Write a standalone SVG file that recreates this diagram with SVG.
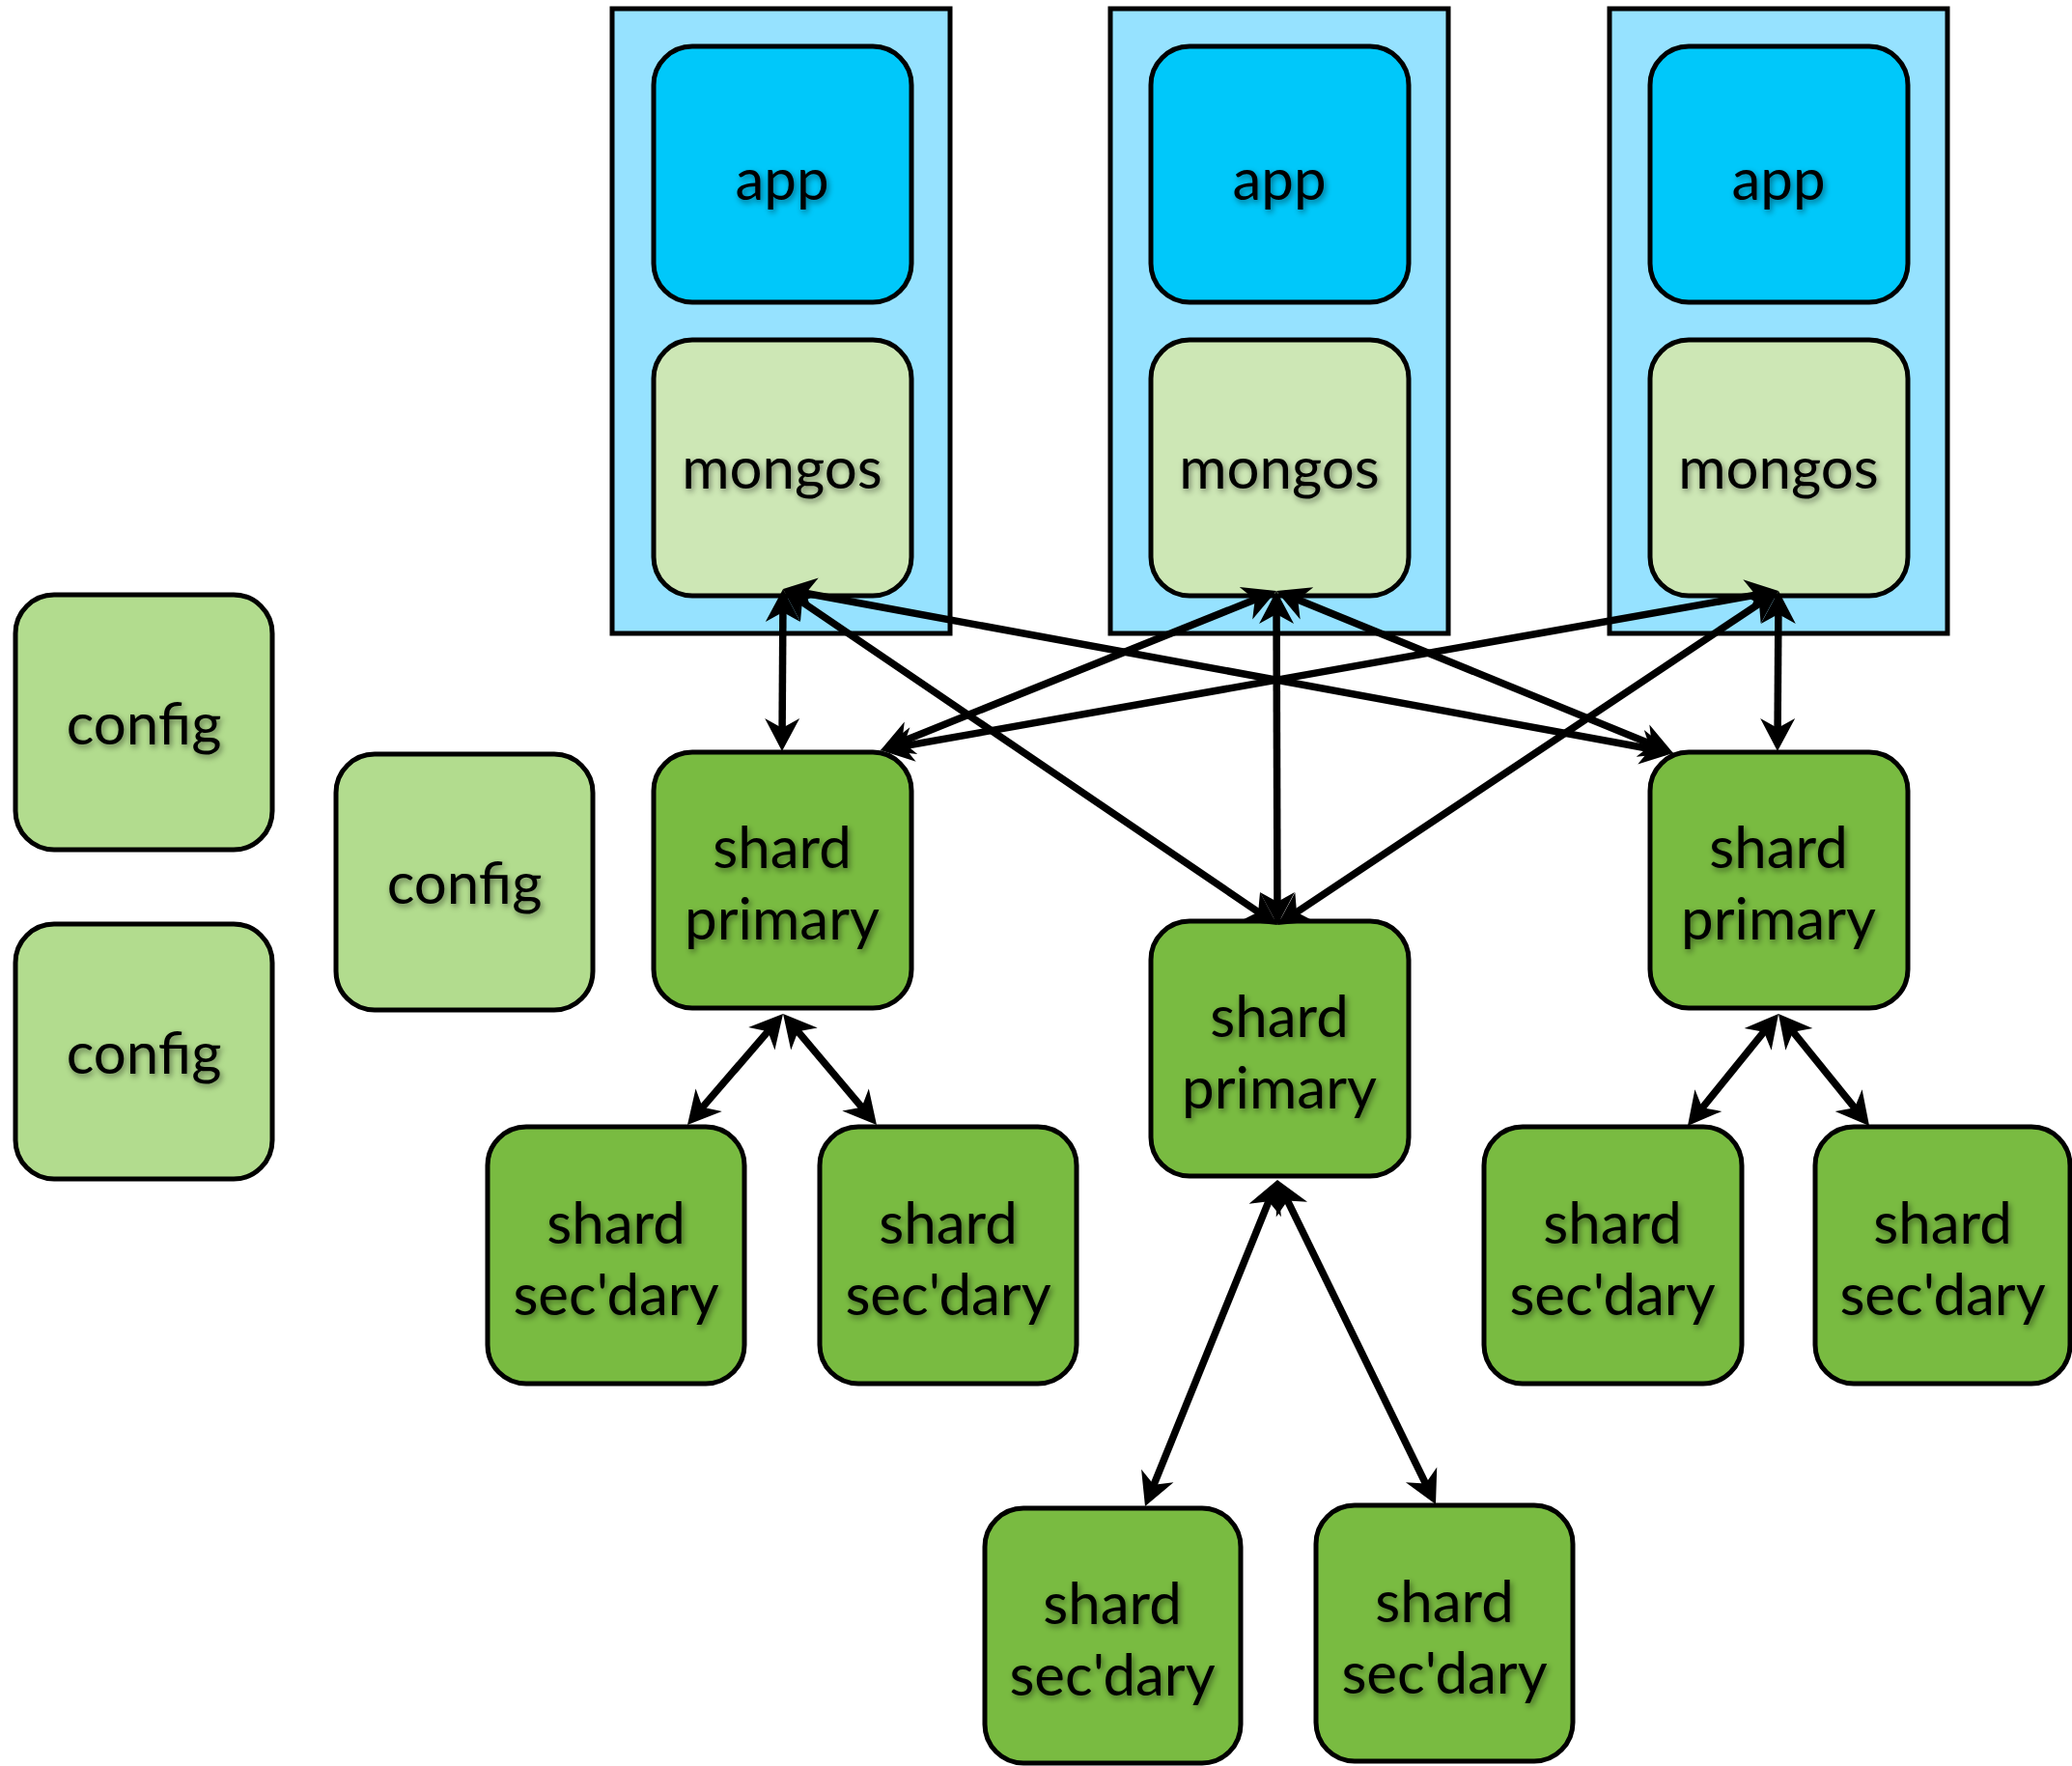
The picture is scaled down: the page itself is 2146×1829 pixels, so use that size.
<svg xmlns="http://www.w3.org/2000/svg" width="2146" height="1829" viewBox="0 0 2146 1829">
<style>
.container{fill:#96E2FF;stroke:#000;stroke-width:5}
.box{stroke:#000;stroke-width:5}
.app{fill:#00C8FA}
.mongos{fill:#CDE7B5}
.config{fill:#B2DC8E}
.shard{fill:#79BB41}
text{font-family:Lato,"Gill Sans","Liberation Sans",sans-serif;font-size:60px;text-anchor:middle;fill:#000;filter:url(#sh)}
.conn line{stroke:#000;stroke-width:7.5;marker-start:url(#ah);marker-end:url(#ah)}
</style>
<defs>
<filter id="sh" x="-20%" y="-30%" width="140%" height="160%">
<feDropShadow dx="2" dy="3" stdDeviation="3" flood-color="#000" flood-opacity="0.45"/>
</filter>
<marker id="ah" markerUnits="userSpaceOnUse" viewBox="-30 -20 40 40" markerWidth="40" markerHeight="40" refX="0" refY="0" orient="auto-start-reverse" overflow="visible">
<path d="M8,0 L-26,-18 L-16,0 L-26,18 Z" fill="#000"/>
</marker>
</defs>
<rect width="2146" height="1829" fill="#fff"/>

<g id="host1"><rect class="container" x="634" y="9" width="350" height="647"/></g>
<g id="host2"><rect class="container" x="1150" y="9" width="350" height="647"/></g>
<g id="host3"><rect class="container" x="1667" y="9" width="350" height="647"/></g>

<g id="app1"><rect class="box app" x="677" y="48" width="267" height="265" rx="40"/><text x="810" y="207">app</text></g>
<g id="app2"><rect class="box app" x="1192" y="48" width="267" height="265" rx="40"/><text x="1325" y="207">app</text></g>
<g id="app3"><rect class="box app" x="1709" y="48" width="267" height="265" rx="40"/><text x="1842" y="207">app</text></g>

<g id="mongos1"><rect class="box mongos" x="677" y="352" width="267" height="265" rx="40"/><text x="810" y="506">mongos</text></g>
<g id="mongos2"><rect class="box mongos" x="1192" y="352" width="267" height="265" rx="40"/><text x="1325" y="506">mongos</text></g>
<g id="mongos3"><rect class="box mongos" x="1709" y="352" width="267" height="265" rx="40"/><text x="1842" y="506">mongos</text></g>

<g id="config1"><rect class="box config" x="16" y="616" width="266" height="264" rx="40"/><text x="149" y="771">config</text></g>
<g id="config2"><rect class="box config" x="348" y="781" width="266" height="265" rx="40"/><text x="481" y="936">config</text></g>
<g id="config3"><rect class="box config" x="16" y="957" width="266" height="264" rx="40"/><text x="149" y="1112">config</text></g>

<g id="primary1"><rect class="box shard" x="677" y="779" width="267" height="265" rx="40"/><text x="810" y="899">shard</text><text x="810" y="973">primary</text></g>
<g id="primary2"><rect class="box shard" x="1192" y="954" width="267" height="264" rx="40"/><text x="1325" y="1074">shard</text><text x="1325" y="1148">primary</text></g>
<g id="primary3"><rect class="box shard" x="1709" y="779" width="267" height="265" rx="40"/><text x="1842" y="899">shard</text><text x="1842" y="973">primary</text></g>

<g id="sec1a"><rect class="box shard" x="505" y="1167" width="266" height="266" rx="40"/><text x="638" y="1288">shard</text><text x="638" y="1362">sec'dary</text></g>
<g id="sec1b"><rect class="box shard" x="849" y="1167" width="266" height="266" rx="40"/><text x="982" y="1288">shard</text><text x="982" y="1362">sec'dary</text></g>
<g id="sec3a"><rect class="box shard" x="1537" y="1167" width="267" height="266" rx="40"/><text x="1670" y="1288">shard</text><text x="1670" y="1362">sec'dary</text></g>
<g id="sec3b"><rect class="box shard" x="1880" y="1167" width="264" height="266" rx="40"/><text x="2012" y="1288">shard</text><text x="2012" y="1362">sec'dary</text></g>
<g id="sec2a"><rect class="box shard" x="1020" y="1562" width="265" height="264" rx="40"/><text x="1152" y="1682">shard</text><text x="1152" y="1756">sec'dary</text></g>
<g id="sec2b"><rect class="box shard" x="1363" y="1559" width="266" height="265" rx="40"/><text x="1496" y="1680">shard</text><text x="1496" y="1754">sec'dary</text></g>

<g id="connectors" class="conn">
<line x1="811" y1="618" x2="810" y2="770"/>
<line x1="817.6" y1="614.5" x2="1316.4" y2="953.5"/>
<line x1="818.9" y1="611.5" x2="1725.1" y2="778.5"/>
<line x1="1314.6" y1="615" x2="919.4" y2="774"/>
<line x1="1322" y1="620" x2="1323" y2="950"/>
<line x1="1329.4" y1="615" x2="1725.6" y2="777"/>
<line x1="1834.1" y1="613.4" x2="919.9" y2="775.6"/>
<line x1="1835.3" y1="616.4" x2="1329.7" y2="953.6"/>
<line x1="1842" y1="620" x2="1841" y2="770"/>
<line x1="805.8" y1="1056.1" x2="717.2" y2="1158.9"/>
<line x1="816.2" y1="1056.1" x2="902.8" y2="1158.9"/>
<line x1="1320" y1="1229.4" x2="1189" y2="1552.6"/>
<line x1="1326.5" y1="1229.2" x2="1483.5" y2="1550.8"/>
<line x1="1837" y1="1056.2" x2="1753" y2="1159.8"/>
<line x1="1847" y1="1056.2" x2="1931" y2="1159.8"/>
</g>
</svg>
